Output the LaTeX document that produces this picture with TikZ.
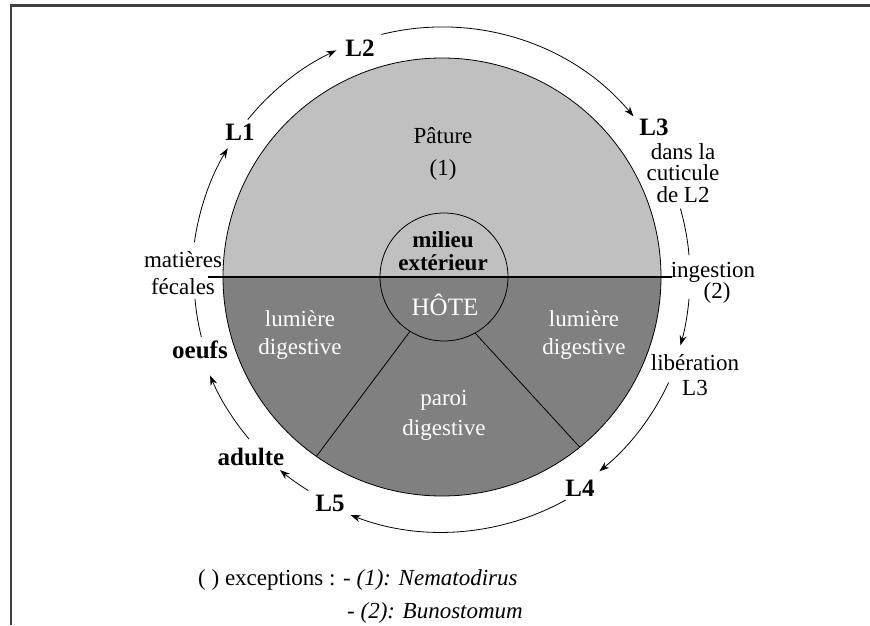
\documentclass[tikz,border=0pt]{standalone}
\usepackage{fontspec}
\setmainfont{Liberation Serif}
\usetikzlibrary{arrows.meta,calc}

\definecolor{pasture}{HTML}{C0C0C0}
\definecolor{host}{HTML}{808080}
\definecolor{framegray}{HTML}{404040}

\begin{document}
\begin{tikzpicture}[x=1pt, y=1pt,
  every node/.style={font=\fontsize{23}{26}\selectfont, inner sep=0pt},
  stage/.style={font=\fontsize{25}{26}\selectfont\bfseries},
  inside/.style={text=white, align=center},
  cyc/.style={line width=0.8pt, -{Stealth[length=10pt,width=7pt]}},
  plainarc/.style={line width=0.8pt}]
  \useasboundingbox (0,0) rectangle (870,625);

  % frame
  \draw[framegray, line width=2.5pt] (11,0) -- (11,619.5) -- (870,619.5);

  % two halves of the big disc
  \coordinate (O) at (442,348);
  \fill[pasture] ([shift={(180:219pt)}]O) arc[start angle=180, end angle=0, radius=219pt] -- cycle;
  \fill[host] ([shift={(180:219pt)}]O) arc[start angle=180, end angle=360, radius=219pt] -- cycle;
  \node[circle, draw, line width=0.8pt, minimum size=438pt, outer sep=0pt] (big) at (O) {};
  \node[circle, draw, line width=0.8pt, minimum size=128pt, outer sep=0pt] (hub) at ([xshift=2pt]O) {};
  \draw[line width=2.8pt] ([xshift=-15pt]big.west) -- ([xshift=11pt]big.east);
  \draw[line width=0.8pt] (hub.-61) -- (big.-51);
  \draw[line width=0.8pt] (hub.-122) -- (big.-125);

  % texts inside
  \node[align=center] (pature) at (443,471) {Pâture\\[6pt](1)};
  \node[align=center, font=\fontsize{23}{23}\selectfont\bfseries] (milieu) at (443,374) {milieu\\extérieur};
  \node[inside, font=\fontsize{25}{26}\selectfont] (hote) at (445,320) {HÔTE};
  \node[inside, font=\fontsize{23}{28}\selectfont] (lumG) at (300,290.5) {lumière\\digestive};
  \node[inside, font=\fontsize{23}{28}\selectfont] (lumD) at (584,290.5) {lumière\\digestive};
  \node[inside, font=\fontsize{23}{30}\selectfont] (paroi) at (444,210) {paroi\\digestive};

  % stages round the cycle
  \node[stage] (L1) at (240,493) {L1};
  \node[stage] (L2) at (360,577) {L2};
  \node[stage] (L3) at (654,498) {L3};
  \node[align=center, font=\fontsize{23}{21.5}\selectfont] (cuticule) at (683,452) {dans la\\cuticule\\de L2};
  \node[align=center, font=\fontsize{23}{21}\selectfont] (ingestion) at (713,342.5) {ingestion\\\hspace*{8pt}(2)};
  \node[align=center, font=\fontsize{23}{25}\selectfont] (liberation) at (695,249.5) {libération\\L3};
  \node[stage] (L4) at (580,137) {L4};
  \node[stage] (L5) at (330,122) {L5};
  \node[stage] (adulte) at (251,168) {adulte};
  \node[stage] (oeufs) at (200,275) {oeufs};
  \node[align=center, font=\fontsize{23}{27}\selectfont] (feces) at (183,352) {matières\\fécales};

  % cycle arrows
  \draw[cyc] ([shift={(172:250pt)}]O) arc[start angle=172, end angle=149, radius=250pt];
  \draw[cyc] ([shift={(141:250pt)}]O) arc[start angle=141, end angle=115, radius=250pt];
  \draw[cyc] ([shift={(104:250pt)}]O) arc[start angle=104, end angle=40, radius=250pt];
  \draw[plainarc] ([shift={(16:248pt)}]O) arc[start angle=16, end angle=5, radius=248pt];
  \draw[cyc] ([shift={(-5:248pt)}]O) arc[start angle=-5, end angle=-16, radius=248pt];
  \draw[cyc] ([shift={(-25:250pt)}]O) arc[start angle=-25, end angle=-51, radius=250pt];
  \draw[cyc] ([shift={(-61:255pt)}]O) arc[start angle=-61, end angle=-111, radius=255pt];
  \draw[cyc] ([shift={(-122:252pt)}]O) arc[start angle=-122, end angle=-130, radius=252pt];
  \draw[cyc] ([shift={(-140:252pt)}]O) arc[start angle=-140, end angle=-157, radius=252pt];
  \draw[plainarc] ([shift={(185:248pt)}]O) arc[start angle=185, end angle=194, radius=248pt];

  % legend
  \node[anchor=west] (legend1) at (198,45) {( ) exceptions : - \textit{(1): Nematodirus}};
  \node[anchor=west] (legend2) at (347,12) {- \textit{(2): Bunostomum}};
\end{tikzpicture}
\end{document}
